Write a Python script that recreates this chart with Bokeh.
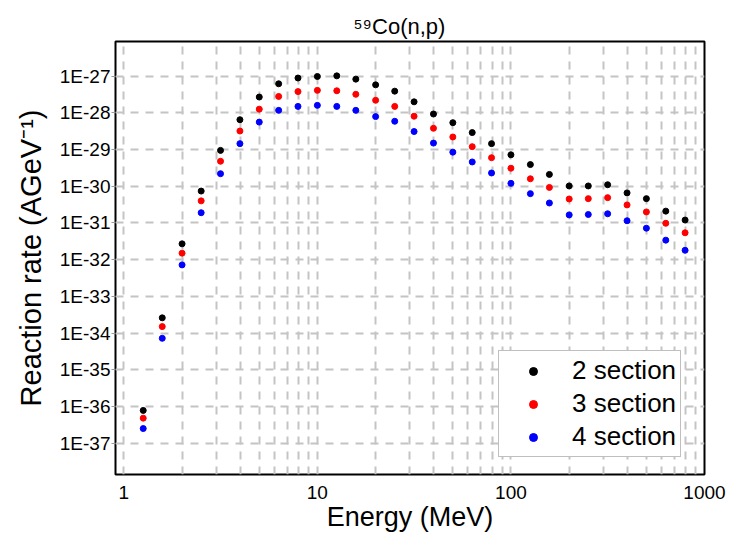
from bokeh.plotting import figure
from bokeh.models import FixedTicker, CustomJSTickFormatter, Range1d
from bokeh.embed import file_html
from bokeh.resources import INLINE

energy = [1.26, 1.58, 2.0, 2.51, 3.16, 3.98, 5.01, 6.31, 7.94, 10.0, 12.6, 15.8, 20.0, 25.1,
          31.6, 39.8, 50.1, 63.1, 79.4, 100, 126, 158, 200, 251, 316, 398, 501, 631, 794]

rate_2 = [7.8e-37, 2.6e-34, 2.7e-32, 7.4e-31, 9.5e-30, 6.5e-29, 2.7e-28, 6.2e-28, 8.9e-28, 9.8e-28,
          1.02e-27, 8.3e-28, 5.8e-28, 3.9e-28, 2.0e-28, 9.3e-29, 5.4e-29, 2.9e-29, 1.45e-29, 7.2e-30,
          3.9e-30, 2.1e-30, 1.02e-30, 1.02e-30, 1.1e-30, 6.6e-31, 4.6e-31, 2.1e-31, 1.2e-31]

rate_3 = [4.8e-37, 1.5e-34, 1.5e-32, 4.0e-31, 4.8e-30, 3.2e-29, 1.26e-28, 2.8e-28, 3.8e-28, 4.1e-28,
          4.0e-28, 3.2e-28, 2.2e-28, 1.5e-28, 8.1e-29, 3.8e-29, 2.2e-29, 1.2e-29, 6.0e-30, 3.1e-30,
          1.6e-30, 9.3e-31, 4.5e-31, 4.6e-31, 4.9e-31, 3.1e-31, 2.0e-31, 9.8e-32, 5.4e-32]

rate_4 = [2.5e-37, 7.2e-35, 7.2e-33, 1.9e-31, 2.2e-30, 1.45e-29, 5.6e-29, 1.17e-28, 1.5e-28, 1.6e-28,
          1.5e-28, 1.17e-28, 7.9e-29, 5.9e-29, 3.1e-29, 1.5e-29, 8.5e-30, 4.6e-30, 2.3e-30, 1.2e-30,
          6.3e-31, 3.5e-31, 1.66e-31, 1.7e-31, 1.78e-31, 1.15e-31, 7.2e-32, 3.4e-32, 1.8e-32]

series_labels = ["2 section", "3 section", "4 section"]
series_colors = ["#000000", "#ff0000", "#0000ff"]

x_major_ticks = [1, 10, 100, 1000]
x_minor_ticks = [2, 3, 4, 5, 6, 7, 8, 9, 20, 30, 40, 50, 60, 70, 80, 90,
                 200, 300, 400, 500, 600, 700, 800, 900]
y_ticks = [1e-37, 1e-36, 1e-35, 1e-34, 1e-33, 1e-32, 1e-31, 1e-30, 1e-29, 1e-28, 1e-27]

FONT = "Liberation Sans"

p = figure(frame_width=589, frame_height=433,
           x_axis_type="log", y_axis_type="log",
           x_range=Range1d(0.906, 1000), y_range=Range1d(1.4e-38, 8.8e-27),
           output_backend="svg", toolbar_location=None,
           min_border_left=115, min_border_right=23, min_border_top=41, min_border_bottom=60,
           background_fill_color="white", border_fill_color="white")

p.title.text = "\u2075\u2079Co(n,p)"
p.title.align = "left"
p.title.offset = 238
p.title.text_font = FONT
p.title.text_font_size = "22px"
p.title.text_font_style = "normal"
p.title.text_color = "#000000"
p.title.standoff = 6

p.outline_line_color = "#000000"
p.outline_line_width = 2
p.outline_line_alpha = 1

xa = p.xaxis[0]
xa.ticker = FixedTicker(ticks=x_major_ticks, minor_ticks=x_minor_ticks)
xa.formatter = CustomJSTickFormatter(code="return String(Math.round(tick));")
xa.axis_line_color = None
xa.major_tick_line_color = None
xa.minor_tick_line_color = None
xa.major_label_text_font = FONT
xa.major_label_text_font_size = "19px"
xa.major_label_text_color = "#000000"
xa.major_label_standoff = 5
xa.axis_label = "Energy (MeV)"
xa.axis_label_text_font = FONT
xa.axis_label_text_font_size = "27px"
xa.axis_label_text_font_style = "normal"
xa.axis_label_text_color = "#000000"
xa.axis_label_standoff = 0

ya = p.yaxis[0]
ya.ticker = FixedTicker(ticks=y_ticks)
ya.formatter = CustomJSTickFormatter(code="return '1E' + String(Math.round(Math.log10(tick)));")
ya.axis_line_color = None
ya.major_tick_line_color = "#999999"
ya.major_tick_out = 4
ya.major_tick_in = 0
ya.minor_tick_line_color = None
ya.major_label_text_font = FONT
ya.major_label_text_font_size = "19px"
ya.major_label_text_color = "#000000"
ya.major_label_standoff = 1
ya.axis_label = "Reaction rate (AGeV\u207b\u00b9)"
ya.axis_label_text_font = FONT
ya.axis_label_text_font_size = "29px"
ya.axis_label_text_font_style = "normal"
ya.axis_label_text_color = "#000000"
ya.axis_label_standoff = 10

p.xgrid.ticker = xa.ticker
p.xgrid.grid_line_color = "#c4c4c4"
p.xgrid.grid_line_width = 2
p.xgrid.grid_line_dash = "8 7"
p.xgrid.minor_grid_line_color = "#c4c4c4"
p.xgrid.minor_grid_line_width = 2
p.xgrid.minor_grid_line_dash = "8 7"

p.ygrid.ticker = ya.ticker
p.ygrid.grid_line_color = "#c4c4c4"
p.ygrid.grid_line_width = 2
p.ygrid.grid_line_dash = "8 7"

for rates, label, color in zip([rate_2, rate_3, rate_4], series_labels, series_colors):
    p.scatter(energy, rates, size=6, color=color, legend_label=label)

lg = p.legend[0]
lg.location = (383, 17)
lg.label_text_font = FONT
lg.label_text_font_size = "26px"
lg.label_text_color = "#000000"
lg.glyph_width = 60
lg.label_standoff = 9
lg.padding = 4
lg.spacing = 2
lg.margin = 0
lg.border_line_color = "#808080"
lg.border_line_width = 1
lg.background_fill_color = "white"
lg.background_fill_alpha = 1

open("out.html", "w").write(file_html(p, INLINE))
